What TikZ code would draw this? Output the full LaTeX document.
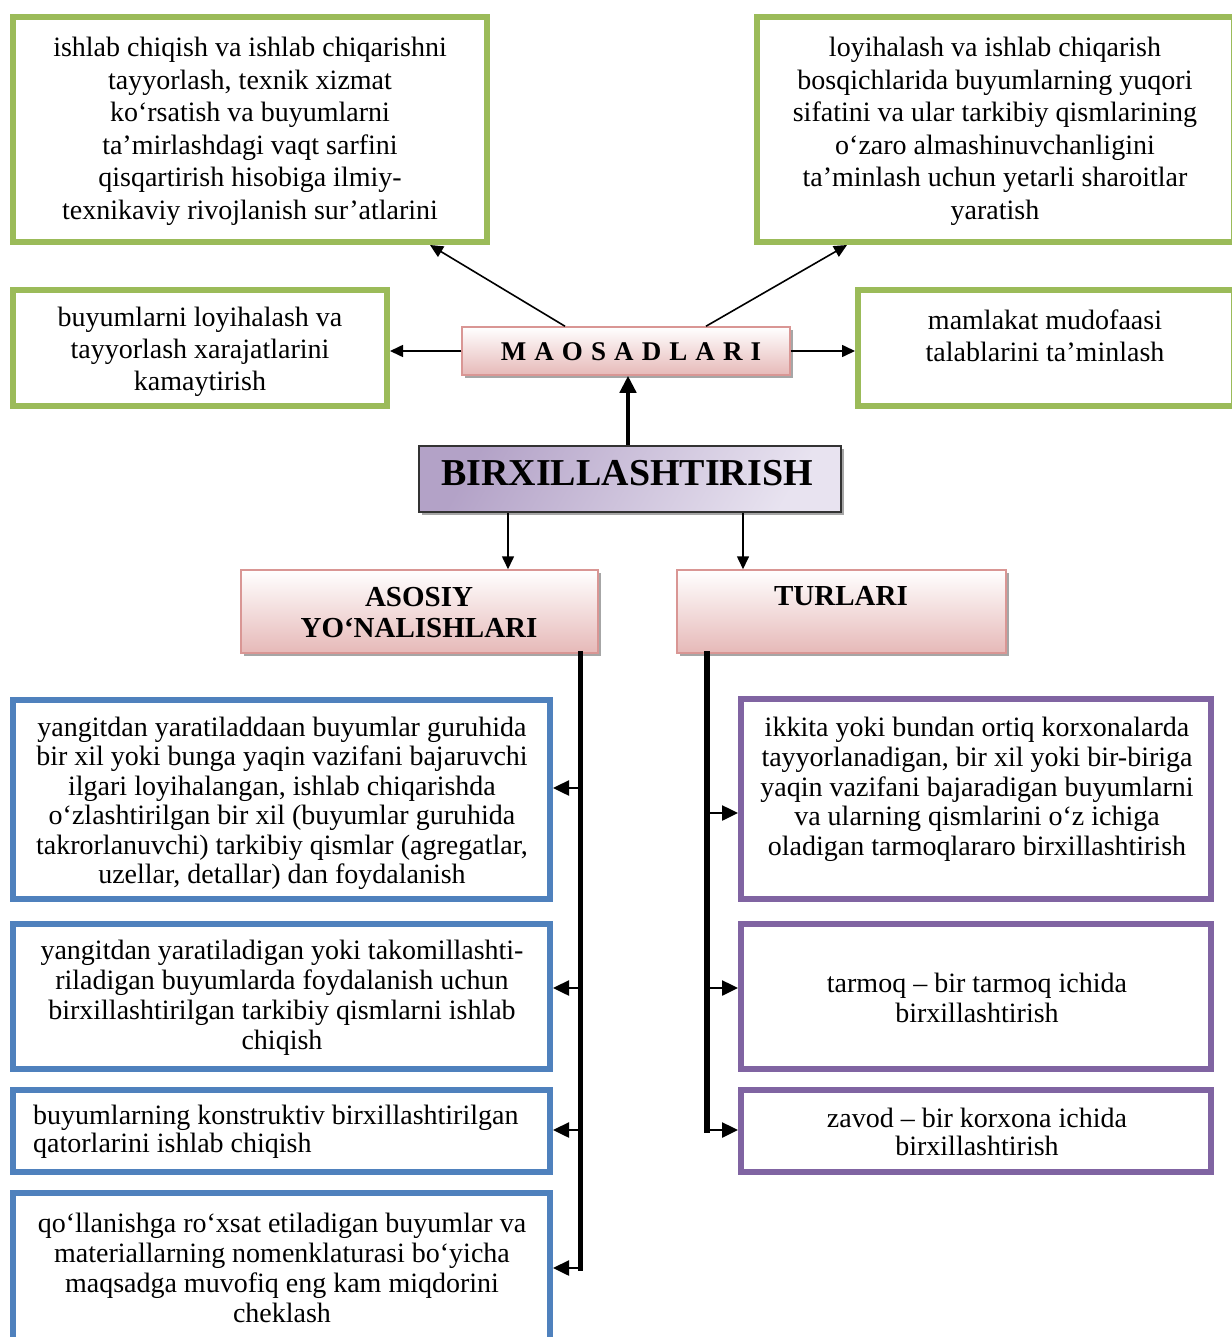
\documentclass[tikz,border=0pt]{standalone}
\usepackage{fontspec}
\setmainfont{Liberation Serif}
\usetikzlibrary{arrows.meta,shadows}

\definecolor{grn}{HTML}{9BBB59}
\definecolor{blu}{HTML}{4F81BD}
\definecolor{prp}{HTML}{8064A2}
\definecolor{pinkedge}{HTML}{D99694}
\definecolor{pinkfill}{HTML}{E6B9B8}
\definecolor{lavdark}{HTML}{B3A2C7}
\definecolor{lavlight}{HTML}{E8E3F0}

\begin{document}
\begin{tikzpicture}[x=1pt,y=-1pt,
  gbox/.style={draw=grn,line width=6pt,fill=white},
  bbox/.style={draw=blu,line width=6pt,fill=white},
  pbox/.style={draw=prp,line width=6pt,fill=white},
  headbox/.style={draw=pinkedge,line width=1.5pt,top color=white,bottom color=pinkfill,
    drop shadow={shadow xshift=3pt,shadow yshift=-3pt,fill=black,opacity=0.35}},
  mainbox/.style={draw=black!80,line width=2pt,left color=lavdark,right color=lavlight,
    shading angle=60,
    drop shadow={shadow xshift=3pt,shadow yshift=-3pt,fill=black,opacity=0.35}},
  bodytop/.style={font=\fontsize{28}{32.5}\selectfont,align=center,inner sep=0pt},
  bodylow/.style={font=\fontsize{28}{#1}\selectfont,align=center,inner sep=0pt},
  headtxt/.style={font=\bfseries\fontsize{29}{31}\selectfont,align=center,inner sep=0pt},
  thinarr/.style={line width=1.6pt,-{Triangle[length=13pt,width=12pt]}},
  heavyarr/.style={line width=4.5pt,-{Triangle[length=17pt,width=16pt]}},
  trunk/.style={line width=5.5pt,line cap=rect},
  branch/.style={line width=2.5pt,-{Triangle[length=16pt,width=15pt]}}
]
\fill[white] (0,0) rectangle (1231,1337);
\useasboundingbox (0,0) rectangle (1231,1337);

% goal boxes (green)
\node[gbox,minimum width=474pt,minimum height=225pt] (tl) at (250,129.5) {};
\node[gbox,minimum width=477pt,minimum height=225pt] (tr) at (995.5,129.5) {};
\node[gbox,minimum width=374pt,minimum height=116pt] (ml) at (200,348) {};
\node[gbox,minimum width=376pt,minimum height=116pt] (mr) at (1046,348) {};

% headings
\node[headbox,minimum width=328pt,minimum height=48pt] (maq) at (626,351) {};
\node[mainbox,minimum width=422pt,minimum height=66pt] (birx) at (630,479) {};
\node[headbox,minimum width=357pt,minimum height=83pt] (aso) at (419.5,611.5) {};
\node[headbox,minimum width=329pt,minimum height=83pt] (tur) at (841.5,611.5) {};

% main directions (blue)
\node[bbox,minimum width=537pt,minimum height=199pt] (L1) at (281.5,799.5) {};
\node[bbox,minimum width=537pt,minimum height=145pt] (L2) at (281.5,996.5) {};
\node[bbox,minimum width=537pt,minimum height=82pt] (L3) at (281.5,1131) {};
\node[bbox,minimum width=537pt,minimum height=152pt] (L4) at (281.5,1269) {};

% kinds (purple)
\node[pbox,minimum width=470pt,minimum height=200pt] (R1) at (976,799) {};
\node[pbox,minimum width=470pt,minimum height=145pt] (R2) at (976,996.5) {};
\node[pbox,minimum width=470pt,minimum height=82pt] (R3) at (976,1131) {};

% connectors around the goals
\coordinate (maqA) at ([xshift=-61pt]maq.north);
\coordinate (maqB) at ([xshift=80pt]maq.north);
\coordinate (tlIn) at ([xshift=180pt]tl.south);
\coordinate (trIn) at ([xshift=-148.5pt]tr.south);
\draw[thinarr] (maqA) -- (tlIn);
\draw[thinarr] (maqB) -- (trIn);
\draw[thinarr] (maq.west) -- (maq.west -| ml.east);
\draw[thinarr] (maq.east) -- (maq.east -| mr.west);
\coordinate (birxTop) at ([xshift=-2pt]birx.north);
\draw[heavyarr] (birxTop) -- (birxTop |- maq.south);

% connectors to the two groups
\coordinate (bA) at ([xshift=-122pt]birx.south);
\coordinate (bB) at ([xshift=113pt]birx.south);
\draw[thinarr] (bA) -- (bA |- aso.north);
\draw[thinarr] (bB) -- (bB |- tur.north);

% left trunk and branches
\coordinate (lt) at ([xshift=161pt]aso.south);
\coordinate (l1p) at ([yshift=11.5pt]L1.east);
\coordinate (l2p) at ([yshift=8.5pt]L2.east);
\coordinate (l3p) at ([yshift=1pt]L3.east);
\coordinate (l4p) at ([yshift=1pt]L4.east);
\draw[trunk] (lt) -- (lt |- l4p);
\draw[branch] (l1p -| lt) -- (l1p);
\draw[branch] (l2p -| lt) -- (l2p);
\draw[branch] (l3p -| lt) -- (l3p);
\draw[branch] (l4p -| lt) -- (l4p);

% right trunk and branches
\coordinate (rt) at ([xshift=-134.5pt]tur.south);
\coordinate (r1p) at ([yshift=-14pt]R1.west);
\coordinate (r2p) at ([yshift=8.5pt]R2.west);
\coordinate (r3p) at ([yshift=1pt]R3.west);
\draw[trunk] (rt) -- (rt |- r3p);
\draw[branch] (r1p -| rt) -- (r1p);
\draw[branch] (r2p -| rt) -- (r2p);
\draw[branch] (r3p -| rt) -- (r3p);

% heading texts
\node[inner sep=0pt,font=\bfseries\fontsize{27}{29}\selectfont\addfontfeature{LetterSpace=30}] (maqT) at (631,352) {MAOSADLARI};
\node[inner sep=0pt,font=\bfseries\fontsize{38}{40}\selectfont] (birxT) at (627,473) {BIRXILLASHTIRISH};
\node[headtxt] (asoT) at (419,613) {ASOSIY\\YO‘NALISHLARI};
\node[headtxt] (turT) at (841,596) {TURLARI};

% goal texts
\node[bodytop] (tlT) at (250,131.5) {ishlab chiqish va ishlab chiqarishni\\tayyorlash, texnik xizmat\\ko‘rsatish va buyumlarni\\ta’mirlashdagi vaqt sarfini\\qisqartirish hisobiga ilmiy-\\texnikaviy rivojlanish sur’atlarini};
\node[bodytop] (trT) at (995,131.5) {loyihalash va ishlab chiqarish\\bosqichlarida buyumlarning yuqori\\sifatini va ular tarkibiy qismlarining\\o‘zaro almashinuvchanligini\\ta’minlash uchun yetarli sharoitlar\\yaratish};
\node[bodylow=32] (mlT) at (200,352) {buyumlarni loyihalash va\\tayyorlash xarajatlarini\\kamaytirish};
\node[bodylow=32] (mrT) at (1045,336) {mamlakat mudofaasi\\talablarini ta’minlash};

% direction texts
\node[bodylow=29.5] (L1T) at (282,803.5) {yangitdan yaratiladdaan buyumlar guruhida\\bir xil yoki bunga yaqin vazifani bajaruvchi\\ilgari loyihalangan, ishlab chiqarishda\\o‘zlashtirilgan bir xil (buyumlar guruhida\\takrorlanuvchi) tarkibiy qismlar (agregatlar,\\uzellar, detallar) dan foydalanish};
\node[bodylow=30] (L2T) at (282,998) {yangitdan yaratiladigan yoki takomillashti-\\riladigan buyumlarda foydalanish uchun\\birxillashtirilgan tarkibiy qismlarni ishlab\\chiqish};
\node[bodylow=28,align=left,anchor=west] (L3T) at (33,1131.5) {buyumlarning konstruktiv birxillashtirilgan\\qatorlarini ishlab chiqish};
\node[bodylow=30] (L4T) at (282,1268) {qo‘llanishga ro‘xsat etiladigan buyumlar va\\materiallarning nomenklaturasi bo‘yicha\\maqsadga muvofiq eng kam miqdorini\\cheklash};

% kind texts
\node[bodylow=29.75] (R1T) at (977,789.5) {ikkita yoki bundan ortiq korxonalarda\\tayyorlanadigan, bir xil yoki bir-biriga\\yaqin vazifani bajaradigan buyumlarni\\va ularning qismlarini o‘z ichiga\\oladigan tarmoqlararo birxillashtirish};
\node[bodylow=30] (R2T) at (977,997.5) {tarmoq – bir tarmoq ichida\\birxillashtirish};
\node[bodylow=28] (R3T) at (977,1131.5) {zavod – bir korxona ichida\\birxillashtirish};
\end{tikzpicture}
\end{document}
